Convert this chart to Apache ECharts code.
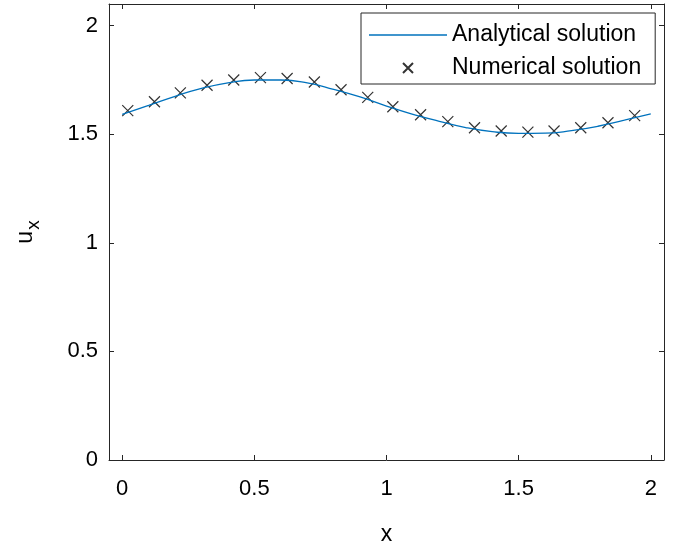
<!DOCTYPE html>
<html>
<head>
<meta charset="utf-8">
<script src="https://cdn.jsdelivr.net/npm/echarts@6/dist/echarts.min.js"></script>
<style>
  html, body { margin: 0; padding: 0; background: #fff; }
  #chart { width: 681px; height: 551px; }
</style>
</head>
<body>
<div id="chart"></div>
<script>
var chart = echarts.init(document.getElementById('chart'));

// analytical curve
let curveX = [0, 0.1, 0.2, 0.3, 0.4, 0.5, 0.6, 0.7, 0.8, 0.9, 1.0,
    1.1, 1.2, 1.3, 1.4, 1.5, 1.6, 1.7, 1.8, 1.9, 2.0];
let curveY = [1.592, 1.633, 1.675, 1.711, 1.737, 1.750, 1.750, 1.737, 1.707, 1.672, 1.630,
    1.592, 1.560, 1.531, 1.512, 1.504, 1.505, 1.517, 1.537, 1.565, 1.594];

// numerical solution markers
let numX = [0.021, 0.122, 0.22, 0.321, 0.422, 0.523, 0.624, 0.727, 0.828, 0.929,
    1.024, 1.129, 1.232, 1.333, 1.434, 1.535, 1.634, 1.735, 1.838, 1.939];
let numY = [1.609, 1.650, 1.691, 1.726, 1.750, 1.761, 1.757, 1.741, 1.705, 1.670,
    1.627, 1.590, 1.558, 1.530, 1.515, 1.510, 1.515, 1.530, 1.553, 1.586];

let xTicks = [0, 0.5, 1, 1.5, 2];
let yTicks = [0, 0.5, 1, 1.5, 2];

let font = 'Liberation Sans, Arial, Helvetica, sans-serif';
let axisColor = '#262626';
let crossPath = 'path://M0,0L10,10M10,0L0,10';
let lineIcon = 'path://M0,0L78,0L78,1.3L0,1.3Z';

let zip = function(xs, ys) {
    return xs.map((x, i) => [x, ys[i]]);
};

let boxAxis = function(extra) {
    return Object.assign({
        type: 'value',
        axisLine: { show: true, onZero: false, lineStyle: { color: axisColor, width: 1 } },
        splitLine: { show: false }
    }, extra);
};

option = {
    backgroundColor: '#fff',
    animation: false,
    grid: {
        left: 109,
        right: 17,
        top: 4,
        bottom: 87
    },
    legend: {
        orient: 'vertical',
        left: 361,
        top: 13,
        padding: [10, 14, 4, 8],
        itemGap: 9,
        itemWidth: 78,
        itemHeight: 10,
        backgroundColor: '#fff',
        borderColor: axisColor,
        borderWidth: 1,
        borderRadius: 0,
        textStyle: {
            fontFamily: font,
            fontSize: 23,
            color: '#000',
            lineHeight: 24
        },
        data: [
            { name: 'Analytical solution', icon: lineIcon },
            { name: 'Numerical solution' }
        ]
    },
    xAxis: [
        boxAxis({
            position: 'bottom',
            min: -0.05,
            max: 2.05,
            name: 'x',
            nameLocation: 'middle',
            nameGap: 63,
            nameTextStyle: { fontFamily: font, fontSize: 23, color: '#000' },
            axisTick: { show: true, inside: true, length: 5, customValues: xTicks,
                lineStyle: { color: axisColor } },
            axisLabel: { show: true, margin: 18, customValues: xTicks,
                fontFamily: font, fontSize: 22, color: '#000' }
        }),
        boxAxis({
            position: 'top',
            min: -0.05,
            max: 2.05,
            axisTick: { show: true, inside: true, length: 5, customValues: xTicks,
                lineStyle: { color: axisColor } },
            axisLabel: { show: false }
        })
    ],
    yAxis: [
        boxAxis({
            position: 'left',
            min: 0,
            max: 2.1,
            name: '{u|u}{s|x}',
            nameLocation: 'middle',
            nameRotate: 90,
            nameGap: 66,
            nameTextStyle: {
                fontFamily: font,
                color: '#000',
                rich: {
                    u: { fontFamily: font, fontSize: 23, color: '#000' },
                    s: { fontFamily: font, fontSize: 19, color: '#000', padding: [16, 0, 0, 1] }
                }
            },
            axisTick: { show: true, inside: true, length: 5, customValues: yTicks,
                lineStyle: { color: axisColor } },
            axisLabel: { show: true, margin: 11, customValues: yTicks,
                fontFamily: font, fontSize: 22, color: '#000' }
        }),
        boxAxis({
            position: 'right',
            min: 0,
            max: 2.1,
            axisTick: { show: true, inside: true, length: 5, customValues: yTicks,
                lineStyle: { color: axisColor } },
            axisLabel: { show: false }
        })
    ],
    series: [{
        name: 'Analytical solution',
        type: 'line',
        xAxisIndex: 0,
        yAxisIndex: 0,
        data: zip(curveX, curveY),
        smooth: true,
        symbol: 'none',
        lineStyle: { color: '#0072BD', width: 1.3 },
        itemStyle: { color: '#0072BD' }
    }, {
        name: 'Numerical solution',
        type: 'scatter',
        xAxisIndex: 0,
        yAxisIndex: 0,
        data: zip(numX, numY),
        symbol: crossPath,
        symbolSize: 11,
        itemStyle: {
            color: 'transparent',
            borderColor: '#000',
            borderWidth: 1.2
        }
    }]
};
chart.setOption(option);
</script>
</body>
</html>
